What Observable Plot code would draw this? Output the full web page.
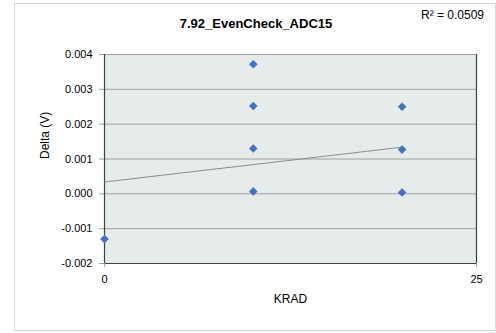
<!DOCTYPE html>
<html>
<head>
<meta charset="utf-8">
<script src="https://cdn.jsdelivr.net/npm/d3@7"></script>
<script src="https://cdn.jsdelivr.net/npm/@observablehq/plot@0.6"></script>
<style>
  body { margin: 0; background: #fff; }
  #wrap { position: relative; width: 496px; height: 333px; font-family: "Liberation Sans", Arial, sans-serif; }
  #border { position: absolute; left: 14px; top: 3px; width: 480px; height: 326px; border: 1px solid #d9d9d9; box-sizing: content-box; }
  #title { position: absolute; left: 0; width: 512px; top: 16px; text-align: center; font-weight: bold; font-size: 13px; color: #000; }
  #r2 { position: absolute; left: 421px; top: 8px; font-size: 12px; color: #000; white-space: nowrap; }
  svg { position: absolute; left: 0; top: 0; }
</style>
</head>
<body>
<div id="wrap">
  <div id="border"></div>
  <div id="title">7.92_EvenCheck_ADC15</div>
  <div id="r2">R² = 0.0509</div>
</div>
<script>
const krad = [0, 10, 10, 10, 10, 20, 20, 20];
const delta = [-0.0013, 0.00372, 0.00252, 0.0013, 0.00007, 0.0025, 0.00127, 0.00004];
const trendKrad = [0, 20];
const trendDelta = [0.00034, 0.00134];
const xTicks = [0, 25];
const yTicks = [-0.002, -0.001, 0, 0.001, 0.002, 0.003, 0.004];

const pts = krad.map((k, i) => ({k, d: delta[i]}));
const trend = trendKrad.map((k, i) => ({k, d: trendDelta[i]}));

const squareDiamond = {
  draw(ctx, size) {
    const h = 4.3;
    ctx.moveTo(0, -h); ctx.lineTo(h, 0); ctx.lineTo(0, h); ctx.lineTo(-h, 0); ctx.closePath();
  }
};

const chart = Plot.plot({
  width: 496,
  height: 333,
  marginLeft: 104,
  marginRight: 20,
  marginTop: 54,
  marginBottom: 70,
  style: {background: "transparent", fontFamily: "Liberation Sans, Arial, sans-serif", fontSize: "11px", color: "#000"},
  x: {domain: [0, 25]},
  y: {domain: [-0.002, 0.004]},
  marks: [
    Plot.frame({fill: "#e6ebeb", stroke: null}),
    Plot.ruleY(yTicks, {stroke: "#a0a0a0", strokeWidth: 1}),
    Plot.ruleX([0, 25], {stroke: "#404040", strokeWidth: 1.2}),
    Plot.ruleY([-0.002], {stroke: "#404040", strokeWidth: 1.2}),
    Plot.axisY({ticks: yTicks, tickFormat: d => d.toFixed(3), tickSize: 5, tickPadding: 7, stroke: "#a0a0a0", label: null, fontSize: 11}),
    Plot.axisX({ticks: xTicks, tickFormat: d => String(d), tickSize: 4, tickPadding: 8, stroke: "#a0a0a0", label: null, fontSize: 11}),
    Plot.text(["Delta (V)"], {frameAnchor: "left", dx: -59, rotate: -90, fontSize: 12}),
    Plot.text(["KRAD"], {frameAnchor: "bottom", dy: 39, fontSize: 12}),
    Plot.line(trend, {x: "k", y: "d", stroke: "#8c8c8c", strokeWidth: 1}),
    Plot.dot(pts, {x: "k", y: "d", symbol: squareDiamond, r: 4, fill: "#4472c4", stroke: null})
  ]
});
document.getElementById("wrap").prepend(chart);
</script>
</body>
</html>
